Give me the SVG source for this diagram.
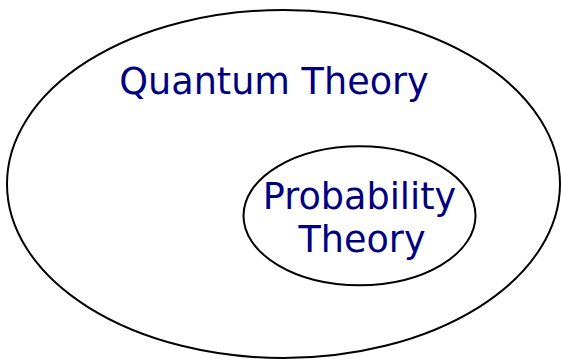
<svg xmlns="http://www.w3.org/2000/svg" width="561" height="359" viewBox="0 0 561 359">
<style>
.set{fill:none;stroke:#000;stroke-width:2}
.lbl{font-family:"DejaVu Sans",sans-serif;font-size:36.6px;fill:#000080;text-anchor:middle}
</style>
<rect width="561" height="359" fill="#fff"/>
<g id="quantum">
<ellipse class="set" cx="283.5" cy="184" rx="276.5" ry="174"/>
<text class="lbl" x="274" y="93.5">Quantum Theory</text>
</g>
<g id="probability">
<ellipse class="set" cx="359.5" cy="215.7" rx="116" ry="69.5"/>
<text class="lbl" x="359.5" y="208.5">Probability</text>
<text class="lbl" x="362" y="252">Theory</text>
</g>
<g id="connectors"/>
</svg>
